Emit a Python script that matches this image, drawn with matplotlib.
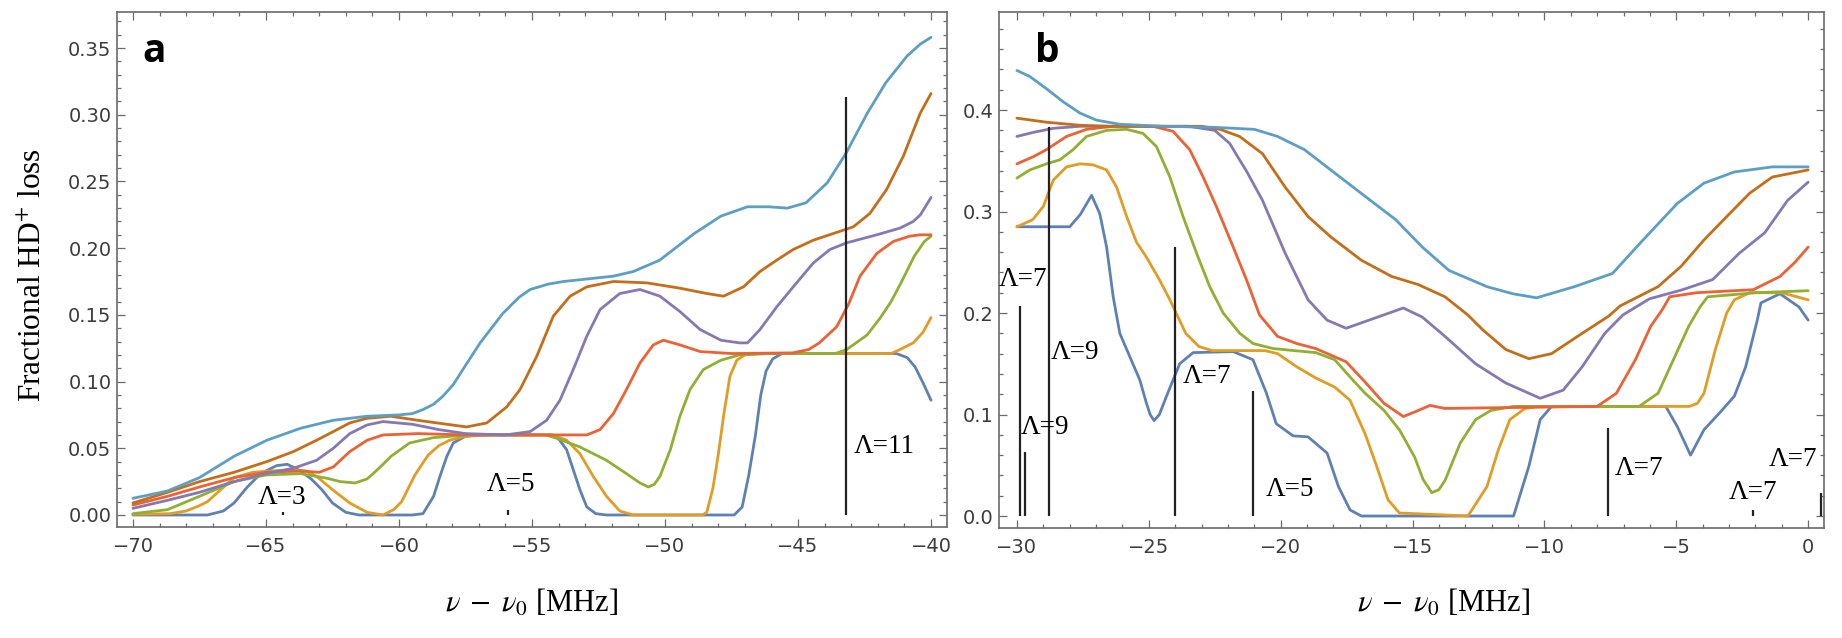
import matplotlib
matplotlib.use('Agg')
import matplotlib.pyplot as plt
from matplotlib.ticker import MultipleLocator, FormatStrFormatter

plt.rcParams['font.family'] = ['DejaVu Sans']
plt.rcParams['mathtext.fontset'] = 'stix'

# Mathematica default palette, in plotting order
colors = ['#5E81B5', '#E19C24', '#8FB032', '#EB6235', '#8778B3', '#C56E1A', '#5D9EC7']

# ---------------- panel a ----------------
a_x_blue = [-70, -67.2, -66.6, -66.2, -65.7, -65.2, -64.6, -64.2, -63.7, -63.3, -62.9, -62.5, -62.0, -61.5,
            -59.5, -59.1, -58.7, -58.46, -58.2, -57.96, -57.5, -57.0, -54.3, -54.07, -53.7, -53.45, -53.2,
            -52.94, -52.6, -52.2, -47.4, -47.1, -46.85, -46.6, -46.4, -46.2, -45.95, -45.6, -45.0, -41.3,
            -40.9, -40.6, -40.3, -40.0]
a_y_blue = [0.000, 0.000, 0.003, 0.009, 0.021, 0.031, 0.037, 0.038, 0.033, 0.027, 0.019, 0.009, 0.002, 0.000,
            0.000, 0.001, 0.014, 0.029, 0.044, 0.054, 0.059, 0.060, 0.060, 0.059, 0.049, 0.034, 0.019,
            0.006, 0.001, 0.000, 0.000, 0.006, 0.030, 0.060, 0.090, 0.108, 0.117, 0.121, 0.121, 0.121,
            0.118, 0.111, 0.099, 0.086]

a_x_yellow = [-70, -68.6, -68.0, -67.5, -67.2, -66.7, -66.2, -65.5, -64.8, -64.0, -63.5, -63.1, -62.5, -61.85,
              -61.2, -60.6, -60.2, -59.9, -59.4, -58.9, -58.5, -58.1, -57.5, -56.5, -54.2, -53.7, -53.2,
              -52.7, -52.2, -51.7, -51.2, -48.6, -48.43, -48.2, -48.0, -47.8, -47.56, -47.3, -47.0, -46.5,
              -41.5, -41.17, -40.67, -40.3, -40.0]
a_y_yellow = [0.0005, 0.001, 0.003, 0.007, 0.010, 0.019, 0.028, 0.032, 0.033, 0.034, 0.033, 0.029, 0.019, 0.009,
              0.002, 0.000, 0.004, 0.010, 0.030, 0.045, 0.052, 0.056, 0.059, 0.060, 0.060, 0.056, 0.046,
              0.029, 0.014, 0.003, 0.000, 0.000, 0.002, 0.020, 0.045, 0.074, 0.104, 0.116, 0.120, 0.121,
              0.121, 0.124, 0.129, 0.137, 0.148]

a_x_green = [-70, -68.7, -67.5, -66.2, -65.0, -63.7, -62.7, -62.2, -61.65, -61.2, -60.97, -60.6, -60.3, -59.6,
             -58.7, -57.4, -56, -54.5, -54.07, -53.2, -52.2, -51.45, -50.94, -50.63, -50.4, -50.19, -49.8,
             -49.44, -49.06, -48.56, -47.9, -47.2, -46, -43.6, -43.17, -42.4, -41.9, -41.5, -41.13, -40.63,
             -40.25, -40.0]
a_y_green = [0.001, 0.004, 0.014, 0.025, 0.030, 0.031, 0.0275, 0.025, 0.024, 0.027, 0.031, 0.038, 0.044, 0.054,
             0.058, 0.060, 0.060, 0.060, 0.0575, 0.051, 0.041, 0.031, 0.024, 0.021, 0.023, 0.029, 0.049,
             0.074, 0.094, 0.109, 0.116, 0.120, 0.121, 0.121, 0.124, 0.135, 0.148, 0.160, 0.174, 0.194,
             0.205, 0.209]

a_x_red = [-70, -68.7, -67.5, -66.2, -65.0, -63.7, -63.0, -62.47, -61.85, -61.2, -60.6, -59.3, -57.4, -54,
           -52.94, -52.44, -51.94, -51.45, -50.94, -50.44, -50.06, -49.44, -48.68, -47.5, -45.2, -44.6, -44.2,
           -43.55, -43.1, -42.67, -42.04, -41.42, -40.8, -40.41, -40.0]
a_y_red = [0.0075, 0.014, 0.021, 0.028, 0.032, 0.033, 0.032, 0.036, 0.0475, 0.056, 0.060, 0.061, 0.060, 0.060,
           0.060, 0.064, 0.076, 0.094, 0.114, 0.1275, 0.131, 0.1275, 0.1225, 0.121, 0.1215, 0.124, 0.129,
           0.141, 0.158, 0.179, 0.196, 0.205, 0.209, 0.210, 0.210]

a_x_purple = [-70, -68.7, -67.5, -66.2, -65.0, -63.97, -63.1, -62.47, -61.85, -61.2, -60.6, -59.5, -58.5, -57.5,
              -56, -55.07, -54.45, -53.95, -53.45, -52.94, -52.44, -51.7, -50.94, -50.19, -49.44, -48.68,
              -47.9, -47.2, -46.9, -46.43, -45.8, -45.18, -44.42, -43.8, -43.17, -42.04, -41.17, -40.67,
              -40.4, -40.0]
a_y_purple = [0.005, 0.011, 0.017, 0.025, 0.031, 0.035, 0.041, 0.050, 0.061, 0.0675, 0.070, 0.068, 0.064, 0.061,
              0.060, 0.0625, 0.071, 0.086, 0.109, 0.134, 0.154, 0.166, 0.169, 0.164, 0.1525, 0.139,
              0.131, 0.129, 0.129, 0.139, 0.156, 0.171, 0.189, 0.199, 0.204, 0.210, 0.215, 0.220,
              0.225, 0.238]

a_x_orange = [-70, -68.7, -67.5, -66.2, -64.97, -63.97, -63.1, -62.47, -61.85, -61.2, -60.3, -59.3, -58.2,
              -57.46, -56.7, -55.95, -55.45, -54.82, -54.2, -53.57, -52.94, -51.94, -50.69, -49.44, -48.43,
              -47.8, -47.05, -46.43, -45.8, -45.18, -44.42, -43.67, -42.92, -42.3, -41.67, -41.04, -40.41,
              -40.0]
a_y_orange = [0.009, 0.017, 0.025, 0.032, 0.040, 0.0475, 0.056, 0.0625, 0.069, 0.0725, 0.074, 0.071, 0.068,
              0.066, 0.069, 0.081, 0.094, 0.119, 0.149, 0.164, 0.171, 0.175, 0.174, 0.170, 0.166,
              0.164, 0.171, 0.1825, 0.191, 0.199, 0.206, 0.211, 0.216, 0.226, 0.244, 0.269, 0.301,
              0.316]

a_x_lightblue = [-70, -68.7, -67.5, -66.2, -64.97, -63.7, -62.47, -61.2, -60.0, -59.5, -59.1, -58.7, -58.35,
                 -57.95, -57.6, -56.95, -56.1, -55.5, -55.07, -54.4, -53.82, -51.94, -51.19, -50.2, -48.9,
                 -47.9, -46.9, -46.1, -45.4, -44.7, -43.9, -43.2, -42.4, -41.7, -40.9, -40.4, -40.0]
a_y_lightblue = [0.0125, 0.018, 0.028, 0.044, 0.056, 0.065, 0.071, 0.074, 0.075, 0.076, 0.079, 0.083, 0.089,
                 0.098, 0.109, 0.129, 0.151, 0.163, 0.169, 0.173, 0.175, 0.179, 0.1825, 0.191, 0.211,
                 0.224, 0.231, 0.231, 0.230, 0.234, 0.249, 0.271, 0.301, 0.324, 0.344, 0.353, 0.358]

a_lines_x = [-64.36, -55.9, -43.2]
a_lines_top = [0.002, 0.004, 0.313]
a_labels = ['Λ=3', 'Λ=5', 'Λ=11']
a_labels_x = [-65.3, -56.7, -42.9]
a_labels_y = [0.013, 0.0225, 0.051]

# ---------------- panel b ----------------
b_x_blue = [-30, -28.0, -27.6, -27.17, -26.86, -26.6, -26.35, -26.1, -25.72, -25.34, -25.1, -24.95, -24.8,
            -24.6, -24.33, -23.83, -23.32, -21.8, -21.05, -20.54, -20.17, -19.53, -18.96, -18.24, -17.81,
            -17.37, -16.94, -11.17, -10.59, -10.16, -9.73, -5.40, -4.96, -4.46, -3.95, -3.38, -2.80, -2.37,
            -1.93, -1.79, -1.07, -0.35, 0.0]
b_y_blue = [0.285, 0.285, 0.297, 0.316, 0.298, 0.265, 0.216, 0.180, 0.157, 0.134, 0.112, 0.100, 0.094,
            0.100, 0.118, 0.150, 0.161, 0.162, 0.154, 0.121, 0.091, 0.079, 0.078, 0.062, 0.029,
            0.006, 0.0, 0.0, 0.049, 0.095, 0.108, 0.108, 0.088, 0.060, 0.085, 0.101, 0.118, 0.147,
            0.193, 0.210, 0.219, 0.206, 0.193]

b_x_yellow = [-30, -29.4, -29.0, -28.62, -28.12, -27.61, -27.11, -26.6, -26.22, -25.84, -25.47, -25.09,
              -24.58, -24.2, -23.6, -23.1, -22.6, -20.6, -20.12, -19.39, -18.67, -17.95, -17.37, -16.8,
              -16.36, -15.93, -15.5, -12.9, -12.18, -11.75, -11.31, -10.74, -10.2, -4.5, -4.2, -3.95,
              -3.52, -3.09, -2.8, -2.22, -1.0, 0.0]
b_y_yellow = [0.285, 0.292, 0.305, 0.331, 0.344, 0.347, 0.346, 0.341, 0.324, 0.295, 0.270, 0.255,
              0.232, 0.213, 0.180, 0.167, 0.163, 0.163, 0.160, 0.147, 0.136, 0.127, 0.114, 0.081,
              0.049, 0.016, 0.003, 0.0, 0.029, 0.065, 0.095, 0.106, 0.108, 0.108, 0.111, 0.121,
              0.164, 0.200, 0.213, 0.220, 0.220, 0.213]

b_x_green = [-30, -29.51, -28.88, -28.37, -27.87, -27.36, -26.6, -25.84, -25.22, -24.71, -24.2, -23.7, -23.19,
             -22.69, -22.18, -21.55, -21.05, -20.29, -19.5, -18.67, -17.95, -17.37, -16.8, -16.08, -15.5,
             -14.92, -14.6, -14.27, -14.0, -13.77, -13.19, -12.61, -12.03, -11.17, -6.41, -5.69, -5.11,
             -4.53, -4.1, -3.81, -2.0, 0.0]
b_y_green = [0.333, 0.341, 0.347, 0.351, 0.361, 0.374, 0.380, 0.381, 0.377, 0.364, 0.334, 0.295, 0.259,
             0.226, 0.200, 0.180, 0.170, 0.165, 0.163, 0.161, 0.154, 0.137, 0.121, 0.104, 0.085,
             0.058, 0.036, 0.023, 0.026, 0.035, 0.072, 0.095, 0.104, 0.108, 0.108, 0.121, 0.154,
             0.187, 0.206, 0.216, 0.220, 0.222]

b_x_red = [-30, -29.38, -28.88, -28.12, -27.36, -26.35, -24.84, -24.08, -23.45, -22.94, -22.44, -21.8, -21.3,
           -20.8, -20.12, -19.4, -18.67, -17.52, -16.8, -16.08, -15.35, -14.78, -14.34, -13.77, -8.0, -7.27,
           -6.55, -5.97, -5.54, -5.25, -4.24, -2.08, -1.07, -0.5, 0.0]
b_y_red = [0.347, 0.354, 0.361, 0.374, 0.381, 0.384, 0.384, 0.379, 0.361, 0.334, 0.305, 0.265, 0.233,
           0.198, 0.177, 0.170, 0.165, 0.152, 0.132, 0.111, 0.098, 0.104, 0.109, 0.106, 0.108, 0.121,
           0.154, 0.187, 0.203, 0.216, 0.220, 0.223, 0.236, 0.250, 0.265]

b_x_purple = [-30, -29.38, -28.62, -27.6, -23.5, -22.5, -21.93, -21.56, -21.3, -20.69, -19.83, -18.96, -18.24,
              -17.52, -16.65, -15.35, -14.63, -13.77, -12.61, -11.46, -10.16, -9.29, -8.57, -7.71, -7.03,
              -6.02, -4.76, -3.62, -2.61, -1.65, -0.78, 0.0]
b_y_purple = [0.374, 0.378, 0.382, 0.384, 0.384, 0.380, 0.367, 0.351, 0.340, 0.311, 0.259, 0.213, 0.193,
              0.185, 0.193, 0.205, 0.196, 0.177, 0.150, 0.131, 0.116, 0.124, 0.147, 0.180, 0.198,
              0.214, 0.223, 0.233, 0.259, 0.279, 0.311, 0.329]

b_x_orange = [-30, -28.88, -27.61, -26.5, -23.0, -22.3, -21.56, -20.69, -19.83, -18.96, -18.1, -16.94, -15.79,
              -14.78, -13.77, -12.9, -12.32, -11.46, -10.59, -9.73, -8.57, -7.56, -7.13, -5.69, -4.82, -3.95,
              -3.09, -2.22, -1.36, 0.0]
b_y_orange = [0.392, 0.388, 0.385, 0.384, 0.384, 0.381, 0.374, 0.357, 0.324, 0.295, 0.275, 0.252, 0.236,
              0.228, 0.216, 0.198, 0.183, 0.164, 0.155, 0.160, 0.180, 0.197, 0.207, 0.226, 0.246, 0.272,
              0.295, 0.318, 0.334, 0.341]

b_x_lightblue = [-30, -29.51, -28.88, -28.24, -27.61, -26.98, -26.1, -24.46, -22.56, -21.0, -20.12, -19.1,
                 -17.95, -16.8, -15.64, -14.63, -13.62, -12.18, -11.2, -10.3, -8.86, -7.42, -6.26, -4.96,
                 -3.95, -2.8, -1.36, 0.0]
b_y_lightblue = [0.439, 0.433, 0.421, 0.408, 0.397, 0.390, 0.386, 0.384, 0.383, 0.381, 0.374, 0.361,
                 0.338, 0.315, 0.292, 0.265, 0.242, 0.226, 0.219, 0.215, 0.226, 0.239, 0.272, 0.308,
                 0.328, 0.339, 0.344, 0.344]

b_lines_x = [-29.89, -29.70, -28.78, -24.02, -21.05, -7.60, -2.08, 0.49]
b_lines_top = [0.207, 0.063, 0.383, 0.265, 0.123, 0.087, 0.006, 0.023]
b_labels = ['Λ=7', 'Λ=9', 'Λ=9', 'Λ=7', 'Λ=5', 'Λ=7', 'Λ=7', 'Λ=7']
b_labels_x = [-30.7, -29.85, -28.7, -23.7, -20.55, -7.35, -3.0, -1.5]
b_labels_y = [0.233, 0.087, 0.161, 0.137, 0.026, 0.047, 0.023, 0.056]

a_series = [(a_x_blue, a_y_blue), (a_x_yellow, a_y_yellow), (a_x_green, a_y_green), (a_x_red, a_y_red),
            (a_x_purple, a_y_purple), (a_x_orange, a_y_orange), (a_x_lightblue, a_y_lightblue)]
b_series = [(b_x_blue, b_y_blue), (b_x_yellow, b_y_yellow), (b_x_green, b_y_green), (b_x_red, b_y_red),
            (b_x_purple, b_y_purple), (b_x_orange, b_y_orange), (b_x_lightblue, b_y_lightblue)]

fig = plt.figure(figsize=(18.42, 6.38), dpi=100)
axa = fig.add_axes([117/1842, 1-527/638, 830/1842, 515/638])
axb = fig.add_axes([999/1842, 1-528/638, 825/1842, 516/638])

frame = '#6a6a6a'
serif = 'Liberation Serif'

def style(ax, xmaj, ymaj, ymin, fmt):
    for s in ax.spines.values():
        s.set_color(frame)
        s.set_linewidth(1.2)
    ax.xaxis.set_major_locator(MultipleLocator(xmaj))
    ax.xaxis.set_minor_locator(MultipleLocator(1))
    ax.yaxis.set_major_locator(MultipleLocator(ymaj))
    ax.yaxis.set_minor_locator(MultipleLocator(ymin))
    ax.yaxis.set_major_formatter(FormatStrFormatter(fmt))
    ax.tick_params(which='both', direction='in', top=True, right=True, color=frame,
                   labelcolor='#3c3c3c', labelsize=14, width=0.9)
    ax.tick_params(which='major', length=5.5)
    ax.tick_params(which='minor', length=3)
    ax.tick_params(axis='x', pad=7)
    ax.tick_params(axis='y', pad=4)

for ax, series, lx, lt, labs, tx, ty in [
        (axa, a_series, a_lines_x, a_lines_top, a_labels, a_labels_x, a_labels_y),
        (axb, b_series, b_lines_x, b_lines_top, b_labels, b_labels_x, b_labels_y)]:
    for (xs, ys), c in zip(series, colors):
        ax.plot(xs, ys, color=c, lw=2.0, solid_joinstyle='round', solid_capstyle='round')
    ax.vlines(lx, 0, lt, color='#222222', lw=1.6, zorder=5)
    for t, x, y in zip(labs, tx, ty):
        ax.text(x, y, t, family=serif, fontsize=19.5, ha='left', va='center', zorder=6)

axa.set_xlim(-70.6, -39.4)
axa.set_ylim(-0.009, 0.377)
axb.set_xlim(-30.68, 0.6)
axb.set_ylim(-0.0118, 0.4966)
style(axa, 5, 0.05, 0.01, '%.2f')
style(axb, 5, 0.1, 0.02, '%.1f')

axa.set_ylabel('Fractional HD$^{+}$ loss', family=serif, fontsize=22.5)
axa.yaxis.set_label_coords(-0.083, 0.49)

axa.text(0.5, -0.165, r'$\nu\;-\;\nu_0$ [MHz]', transform=axa.transAxes, ha='center', va='baseline',
         family=serif, fontsize=22)
axb.text(0.539, -0.163, r'$\nu\;-\;\nu_0$ [MHz]', transform=axb.transAxes, ha='center', va='baseline',
         family=serif, fontsize=22)

axa.text(0.031, 0.903, 'a', transform=axa.transAxes, family='Open Sans', fontweight='bold',
         fontsize=28, ha='left', va='baseline')
axb.text(0.044, 0.903, 'b', transform=axb.transAxes, family='Open Sans', fontweight='bold',
         fontsize=28, ha='left', va='baseline')

fig.savefig('out.png', dpi=100)
